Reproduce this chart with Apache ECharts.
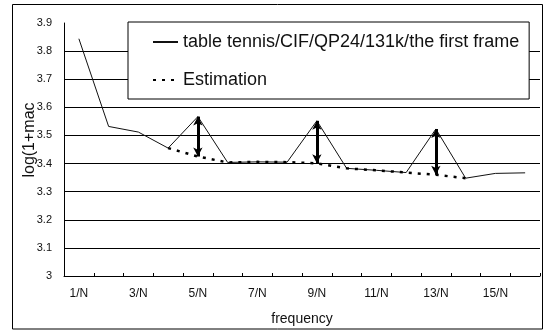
<!DOCTYPE html>
<html>
<head>
<meta charset="utf-8">
<script src="https://cdn.jsdelivr.net/npm/echarts@6/dist/echarts.min.js"></script>
<style>
  html, body { margin: 0; padding: 0; background: #fff; }
  #chart { width: 547px; height: 331px; }
</style>
</head>
<body>
<div id="chart"></div>
<script>
// Frequency bins 1/N .. 16/N
const categories = ['1/N','2/N','3/N','4/N','5/N','6/N','7/N','8/N','9/N','10/N','11/N','12/N','13/N','14/N','15/N','16/N'];

// Measured log(1+magnitude) for table tennis / CIF / QP24 / 131k / first frame
const measured = [3.844, 3.532, 3.512, 3.455, 3.567, 3.404, 3.406, 3.405, 3.552, 3.383, 3.376, 3.368, 3.523, 3.348, 3.365, 3.367];

// Estimated curve (only where it departs from / bridges the peaks)
const estimation = [null, null, null, 3.455, 3.425, 3.404, 3.406, 3.405, 3.401, 3.383, 3.376, 3.368, 3.360, 3.348, null, null];

// Bins where the peak is compared against the estimate
const peakBins = [4, 8, 12];

const yTickLabels = ['3', '3.1', '3.2', '3.3', '3.4', '3.5', '3.6', '3.7', '3.8', '3.9'];

const seriesNames = ['table tennis/CIF/QP24/131k/the first frame', 'Estimation'];

const font = 'Liberation Sans, Arial, sans-serif';

const arrowPairs = peakBins.map(i => [
  { xAxis: categories[i], yAxis: estimation[i] },
  { xAxis: categories[i], yAxis: measured[i] }
]);

const chart = echarts.init(document.getElementById('chart'), null, { renderer: 'canvas' });

chart.setOption({
  animation: false,
  backgroundColor: '#fff',
  grid: { left: 64, right: 7, top: 23, bottom: 55 },
  graphic: [
    {
      type: 'rect',
      shape: { x: 12.5, y: 4.5, width: 530, height: 324.5 },
      style: { fill: 'none', stroke: '#000', lineWidth: 1 },
      silent: true,
      z: -1
    },
    {
      type: 'text',
      x: 30, y: 140,
      rotation: Math.PI / 2,
      style: {
        text: 'log(1+mac',
        font: '16px ' + font,
        fill: '#111',
        align: 'center',
        verticalAlign: 'middle'
      },
      silent: true
    }
  ],
  legend: {
    orient: 'vertical',
    left: 128,
    top: 22,
    padding: [11, 10, 10, 24],
    itemWidth: 25,
    itemHeight: 14,
    itemGap: 20,
    backgroundColor: '#fff',
    borderColor: '#000',
    borderWidth: 1,
    borderRadius: 0,
    itemStyle: { opacity: 0 },
    textStyle: { fontSize: 18, fontFamily: font, color: '#111' },
    data: seriesNames,
    z: 10
  },
  xAxis: {
    type: 'category',
    data: categories,
    boundaryGap: true,
    name: 'frequency',
    nameLocation: 'middle',
    nameGap: 36,
    nameTextStyle: { fontSize: 14, fontFamily: font, color: '#111' },
    axisLine: { show: true, lineStyle: { color: '#000', width: 1 } },
    axisTick: { show: true, inside: true, length: 3, interval: 0, lineStyle: { color: '#000' } },
    axisLabel: { interval: 1, fontSize: 12, fontFamily: font, color: '#111', margin: 12 },
    splitLine: { show: false }
  },
  yAxis: {
    type: 'value',
    min: 3,
    max: 3.9,
    interval: 0.1,
    axisLine: { show: true, lineStyle: { color: '#000', width: 1 } },
    axisTick: { show: false },
    axisLabel: {
      fontSize: 11, fontFamily: font, color: '#111', margin: 12,
      formatter: v => yTickLabels[Math.round((v - 3) * 10)]
    },
    splitLine: { show: true, showMaxLine: false, lineStyle: { color: '#000', width: 1 } }
  },
  series: [
    {
      name: seriesNames[0],
      type: 'line',
      data: measured,
      symbol: 'none',
      lineStyle: { color: '#111', width: 1 },
      itemStyle: { color: '#111' },
      z: 3
    },
    {
      name: seriesNames[1],
      type: 'line',
      data: estimation,
      symbol: 'none',
      connectNulls: false,
      lineStyle: { color: '#000', width: 2.5, type: [3, 6] },
      itemStyle: { color: '#000' },
      z: 4,
      markLine: {
        silent: true,
        symbol: ['arrow', 'arrow'],
        symbolSize: [7, 9],
        label: { show: false },
        lineStyle: { color: '#000', width: 3, type: 'solid' },
        data: arrowPairs
      }
    }
  ]
});
</script>
</body>
</html>
